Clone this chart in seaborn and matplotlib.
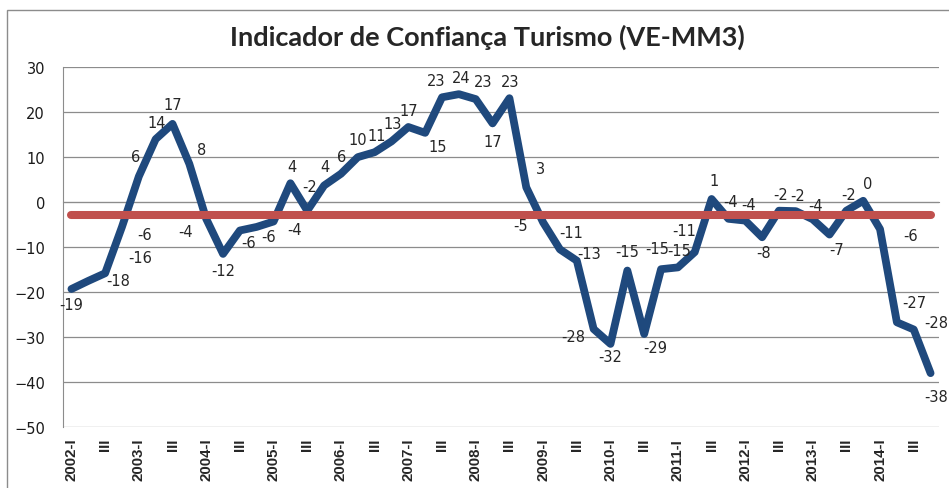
import numpy as np
import pandas as pd
import matplotlib
matplotlib.use("Agg")
import matplotlib.pyplot as plt
from matplotlib.patches import Rectangle
import seaborn as sns

# Indicador de Confiança Turismo (VE-MM3), trimestral 2002-I a 2014-IV
ANOS = list(range(2002, 2015))
TRIMESTRES = ["I", "II", "III", "IV"]

VALORES = [
    -19.4, -17.6, -15.9, -5.6, 5.6, 13.9, 17.3, 8.4,      # 2002-2003
    -3.8, -11.6, -6.4, -5.6, -4.4, 4.1, -2.0, 3.6,        # 2004-2005
    6.2, 9.9, 11.0, 13.4, 16.6, 15.3, 23.2, 23.9,         # 2006-2007
    22.8, 17.4, 23.0, 3.2, -4.6, -10.6, -13.1, -28.3,     # 2008-2009
    -31.6, -15.3, -29.4, -15.0, -14.6, -11.2, 0.6, -3.8,  # 2010-2011
    -4.2, -7.9, -2.0, -2.1, -3.9, -7.3, -2.0, 0.2,        # 2012-2013
    -6.1, -26.8, -28.4, -38.1,                            # 2014
]
MEDIA = -3.0

# deslocamento dos rótulos (px: direita, cima)
OFFSETS = [
    (0, -16), (30, 0), (35, 16), (23, -8), (-3, 20), (1, 17), (0, 19), (12, 14),
    (-21, -13), (0, -17), (9, -12), (12, -10), (21, -8), (2, 17), (2, 24), (1, 19),
    (1, 17), (0, 18), (2, 17), (1, 18), (0, 17), (12, -14), (-6, 17), (2, 17),
    (7, 18), (0, -18), (1, 17), (14, 19), (-23, -3), (11, 17), (12, 7), (-20, -7),
    (0, -13), (0, 19), (11, -14), (-4, 21), (1, 17), (-11, 22), (2, 18), (2, 17),
    (3, 16), (1, -15), (2, 16), (2, 16), (3, 14), (7, -15), (2, 16), (4, 17),
    (31, -6), (17, 20), (23, 7), (6, -23),
]

AZUL = "#1F497D"
VERMELHO = "#C0504D"
CINZA = "#8C8C8C"

trimestres = [f"{a}-{t}" for a in ANOS for t in TRIMESTRES]
df = pd.DataFrame({"trimestre": trimestres, "valor": VALORES})
df["pos"] = np.arange(len(df))

rotulos_x = [f"{a}-I" if t == "I" else "III" for a in ANOS for t in ["I", "III"]]

sns.set_style("white")
plt.rcParams["font.family"] = ["DejaVu Sans"]

fig = plt.figure(figsize=(9.49, 4.89), dpi=100)
ax = fig.add_axes([63 / 949, 1 - 427.7 / 489, 876 / 949, 360 / 489])

sns.lineplot(
    data=df, x="pos", y="valor", ax=ax,
    color=AZUL, linewidth=5.6, sort=False, zorder=3
)
ax.lines[-1].set_solid_joinstyle("round")

media = pd.DataFrame({"pos": [df["pos"].iloc[0], df["pos"].iloc[-1]],
                      "valor": [MEDIA, MEDIA]})
sns.lineplot(
    data=media, x="pos", y="valor", ax=ax,
    color=VERMELHO, linewidth=5.8, zorder=4
)
ax.lines[-1].set_solid_capstyle("round")

for i, (v, (dx, dy)) in enumerate(zip(VALORES, OFFSETS)):
    ax.annotate(
        f"{v:.0f}", (i, v),
        xytext=(dx * 0.72, dy * 0.72), textcoords="offset points",
        ha="center", va="center", fontsize=10.5, color="#262626", zorder=5
    )

ax.set_xlim(-0.5, len(VALORES) - 0.5)
ax.set_ylim(-50, 30)
ax.set_yticks(range(-50, 31, 10))
ax.grid(axis="y", color=CINZA, linewidth=0.9)
ax.set_axisbelow(True)
ax.set_xlabel("")
ax.set_ylabel("")

ax.spines["top"].set_visible(False)
ax.spines["right"].set_visible(False)
ax.spines["left"].set_color(CINZA)
ax.spines["bottom"].set_color(CINZA)
ax.spines["bottom"].set_position(("data", 0))

ax.set_xticks(np.arange(-0.5, len(VALORES)), labels=[])
ax.tick_params(axis="x", length=5, direction="out", color=CINZA, width=0.9)
ax.tick_params(axis="y", length=5, direction="out", color=CINZA, width=0.9,
               labelsize=10.5, pad=8, labelcolor="#1a1a1a")

sec = ax.secondary_xaxis("bottom")
sec.set_xticks(np.arange(0, len(VALORES), 2), labels=rotulos_x)
sec.tick_params(length=0, pad=8, labelrotation=90)
sec.spines["bottom"].set_visible(False)
for t in sec.get_xticklabels():
    t.set_fontweight("bold")
    t.set_fontsize(10.8)
    t.set_family(["Liberation Sans", "DejaVu Sans"])

fig.text(
    0.514, 1 - 37 / 489, "Indicador de Confiança Turismo (VE-MM3)",
    ha="center", va="center", fontsize=19.5, fontweight="bold", family="Lato"
)

fig.add_artist(Rectangle(
    (7 / 949, -0.05), 1.2, 1 - 11 / 489 + 0.05,
    transform=fig.transFigure, fill=False, edgecolor=CINZA, linewidth=1
))

fig.savefig("out.png", dpi=100)
